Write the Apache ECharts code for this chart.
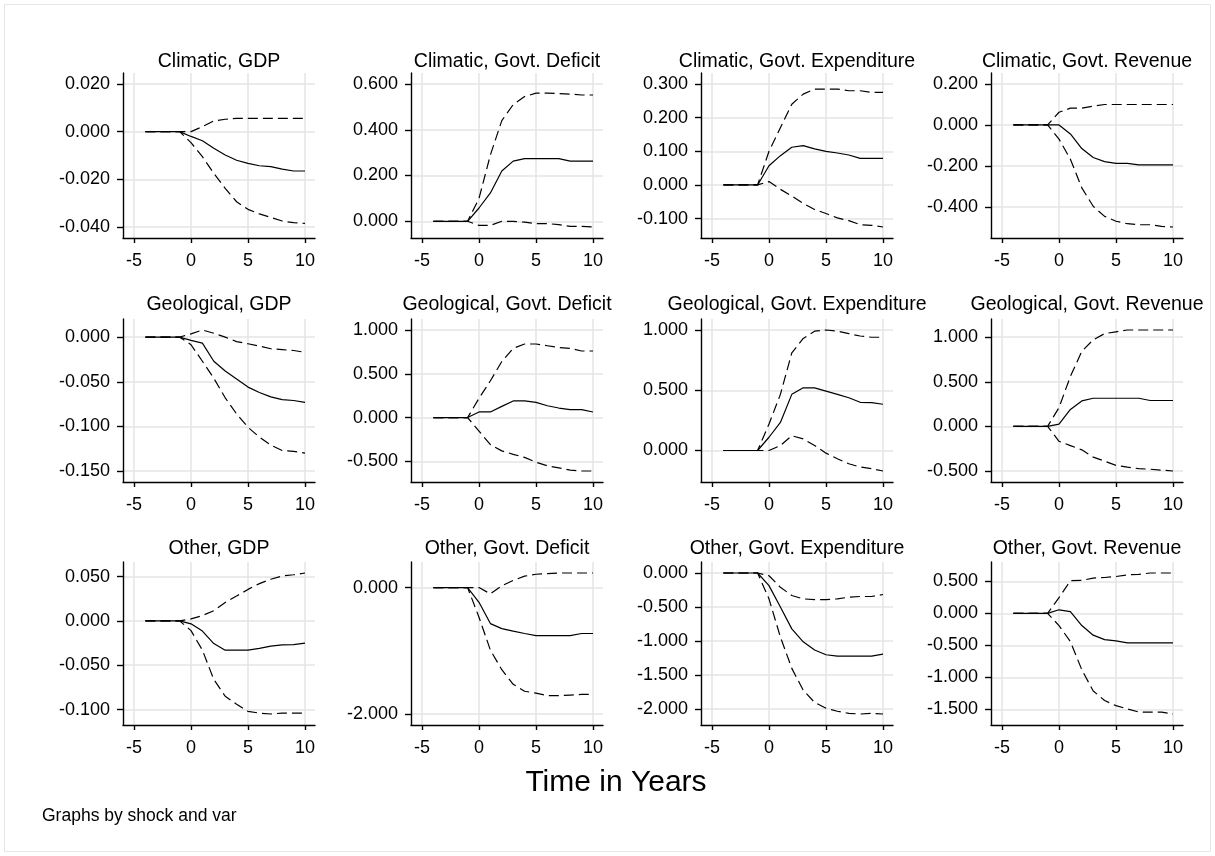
<!DOCTYPE html>
<html><head><meta charset="utf-8">
<script src="https://cdn.jsdelivr.net/npm/echarts@6/dist/echarts.min.js"></script>
<style>html,body{margin:0;padding:0;background:#fff}#c{width:1215px;height:856px}</style>
</head><body><div id="c"></div>
<script>
// ---- data ----
const years = [-4,-3,-2,-1,0,1,2,3,4,5,6,7,8,9,10];
const xTicks = [-5,0,5,10];
const panelTitles = [
  'Climatic, GDP','Climatic, Govt. Deficit','Climatic, Govt. Expenditure','Climatic, Govt. Revenue',
  'Geological, GDP','Geological, Govt. Deficit','Geological, Govt. Expenditure','Geological, Govt. Revenue',
  'Other, GDP','Other, Govt. Deficit','Other, Govt. Expenditure','Other, Govt. Revenue'];
const xTitle = 'Time in Years';
const noteText = 'Graphs by shock and var';

const climGDP_est = [0,0,0,0,-0.002,-0.0038,-0.007,-0.0098,-0.012,-0.0133,-0.0143,-0.0147,-0.0157,-0.0165,-0.0165];
const climGDP_hi  = [0,0,0,0,0,0.0021,0.0045,0.0052,0.0056,0.0056,0.0056,0.0056,0.0056,0.0056,0.0056];
const climGDP_lo  = [0,0,0,0,-0.0046,-0.0105,-0.0175,-0.0238,-0.0294,-0.0326,-0.0345,-0.036,-0.0375,-0.0382,-0.0385];
const climGDP_ticks = [-0.04,-0.02,0,0.02];

const climDef_est = [0,0,0,0,0.058,0.124,0.22,0.263,0.274,0.274,0.274,0.274,0.263,0.263,0.263];
const climDef_hi  = [0,0,0,0,0.10,0.29,0.44,0.51,0.545,0.56,0.56,0.558,0.556,0.552,0.552];
const climDef_lo  = [0,0,0,0,-0.018,-0.018,0,0,-0.004,-0.01,-0.01,-0.015,-0.022,-0.022,-0.025];
const climDef_ticks = [0,0.2,0.4,0.6];

const climExp_est = [0,0,0,0,0.057,0.087,0.112,0.117,0.107,0.1,0.095,0.089,0.079,0.079,0.079];
const climExp_hi  = [0,0,0,0,0.10,0.17,0.24,0.27,0.285,0.285,0.285,0.28,0.28,0.275,0.275];
const climExp_lo  = [0,0,0,0,0.01,-0.013,-0.033,-0.055,-0.073,-0.085,-0.098,-0.106,-0.118,-0.12,-0.125];
const climExp_ticks = [-0.1,0,0.1,0.2,0.3];

const climRev_est = [0,0,0,0,0,-0.044,-0.115,-0.159,-0.179,-0.187,-0.187,-0.195,-0.195,-0.195,-0.195];
const climRev_hi  = [0,0,0,0,0.062,0.082,0.082,0.092,0.1,0.1,0.1,0.1,0.1,0.1,0.1];
const climRev_lo  = [0,0,0,0,-0.069,-0.167,-0.307,-0.397,-0.446,-0.47,-0.482,-0.487,-0.487,-0.495,-0.498];
const climRev_ticks = [-0.4,-0.2,0,0.2];

const geoGDP_est = [0,0,0,0,-0.0037,-0.0067,-0.027,-0.038,-0.047,-0.056,-0.062,-0.067,-0.070,-0.071,-0.073];
const geoGDP_hi  = [0,0,0,0,0.0037,0.008,0.0044,0,-0.005,-0.0074,-0.010,-0.013,-0.014,-0.015,-0.017];
const geoGDP_lo  = [0,0,0,0,-0.0085,-0.027,-0.046,-0.068,-0.086,-0.101,-0.112,-0.121,-0.127,-0.128,-0.130];
const geoGDP_ticks = [-0.15,-0.1,-0.05,0];

const geoDef_est = [0,0,0,0,0.064,0.064,0.128,0.19,0.19,0.173,0.135,0.109,0.09,0.09,0.064];
const geoDef_hi  = [0,0,0,0,0.22,0.42,0.64,0.79,0.84,0.84,0.82,0.80,0.79,0.76,0.76];
const geoDef_lo  = [0,0,0,0,-0.154,-0.31,-0.38,-0.42,-0.455,-0.51,-0.55,-0.575,-0.6,-0.61,-0.61];
const geoDef_ticks = [-0.5,0,0.5,1.0];

const geoExp_est = [0,0,0,0,0.11,0.233,0.466,0.52,0.52,0.493,0.466,0.438,0.40,0.397,0.384];
const geoExp_hi  = [0,0,0,0,0.22,0.466,0.81,0.93,0.99,1.0,0.99,0.97,0.95,0.94,0.94];
const geoExp_lo  = [0,0,0,0,0,0.041,0.123,0.096,0.041,-0.022,-0.068,-0.11,-0.137,-0.15,-0.17];
const geoExp_ticks = [0,0.5,1.0];

const geoRev_est = [0,0,0,0,0.026,0.19,0.285,0.315,0.315,0.315,0.315,0.315,0.29,0.29,0.29];
const geoRev_hi  = [0,0,0,0,0.21,0.56,0.84,0.97,1.04,1.06,1.08,1.08,1.08,1.08,1.08];
const geoRev_lo  = [0,0,0,0,-0.167,-0.215,-0.263,-0.344,-0.39,-0.437,-0.456,-0.474,-0.48,-0.49,-0.5];
const geoRev_ticks = [-0.5,0,0.5,1.0];

const othGDP_est = [0,0,0,0,-0.0033,-0.0115,-0.0256,-0.033,-0.033,-0.033,-0.031,-0.0285,-0.027,-0.0267,-0.025];
const othGDP_hi  = [0,0,0,0,0.0022,0.006,0.0115,0.0207,0.028,0.0355,0.042,0.047,0.0507,0.052,0.054];
const othGDP_lo  = [0,0,0,0,-0.011,-0.033,-0.066,-0.085,-0.094,-0.102,-0.104,-0.105,-0.104,-0.104,-0.104];
const othGDP_ticks = [-0.1,-0.05,0,0.05];

const othDef_est = [0,0,0,0,-0.234,-0.57,-0.65,-0.69,-0.727,-0.76,-0.76,-0.76,-0.76,-0.727,-0.727];
const othDef_hi  = [0,0,0,0,0,-0.10,0.026,0.114,0.18,0.21,0.22,0.23,0.23,0.23,0.23];
const othDef_lo  = [0,0,0,0,-0.47,-0.99,-1.30,-1.53,-1.64,-1.67,-1.71,-1.71,-1.70,-1.69,-1.69];
const othDef_ticks = [-2,0];

const othExp_est = [0,0,0,0,-0.185,-0.50,-0.82,-1.01,-1.13,-1.20,-1.22,-1.22,-1.22,-1.22,-1.19];
const othExp_hi  = [0,0,0,0,-0.04,-0.21,-0.33,-0.38,-0.39,-0.39,-0.38,-0.355,-0.345,-0.345,-0.316];
const othExp_lo  = [0,0,0,0,-0.38,-0.94,-1.40,-1.72,-1.90,-1.985,-2.03,-2.06,-2.07,-2.06,-2.07];
const othExp_ticks = [-2,-1.5,-1,-0.5,0];

const othRev_est = [0,0,0,0,0.056,0.026,-0.19,-0.34,-0.41,-0.43,-0.46,-0.46,-0.46,-0.46,-0.46];
const othRev_hi  = [0,0,0,0,0.245,0.51,0.515,0.55,0.56,0.575,0.60,0.61,0.63,0.63,0.63];
const othRev_lo  = [0,0,0,0,-0.19,-0.44,-0.88,-1.21,-1.36,-1.44,-1.49,-1.54,-1.54,-1.54,-1.57];
const othRev_ticks = [-1.5,-1,-0.5,0,0.5];

const panels = [
  [climGDP_est, climGDP_hi, climGDP_lo, climGDP_ticks],
  [climDef_est, climDef_hi, climDef_lo, climDef_ticks],
  [climExp_est, climExp_hi, climExp_lo, climExp_ticks],
  [climRev_est, climRev_hi, climRev_lo, climRev_ticks],
  [geoGDP_est, geoGDP_hi, geoGDP_lo, geoGDP_ticks],
  [geoDef_est, geoDef_hi, geoDef_lo, geoDef_ticks],
  [geoExp_est, geoExp_hi, geoExp_lo, geoExp_ticks],
  [geoRev_est, geoRev_hi, geoRev_lo, geoRev_ticks],
  [othGDP_est, othGDP_hi, othGDP_lo, othGDP_ticks],
  [othDef_est, othDef_hi, othDef_lo, othDef_ticks],
  [othExp_est, othExp_hi, othExp_lo, othExp_ticks],
  [othRev_est, othRev_hi, othRev_lo, othRev_ticks]
];

// ---- layout ----
const colLeft = [123, 411, 701, 991];
const gridW = 192;
const rowTop = [73, 319, 562];
const rowH = [165, 163, 163];
const titleY = [62, 305, 549];
const MARG = 11;
const FONT = '"Liberation Sans", Arial, Helvetica, sans-serif';

const grids = [], xAxes = [], yAxes = [], series = [], graphics = [];
panels.forEach((p, i) => {
  const r = Math.floor(i / 4), c = i % 4;
  const H = rowH[r], W = gridW;
  grids.push({left: colLeft[c], top: rowTop[r], width: W, height: H, containLabel: false});
  const xu = (xTicks[3] - xTicks[0]) / (W - 21);
  xAxes.push({
    type: 'value', gridIndex: i, min: xTicks[0] - 11 * xu, max: xTicks[3] + 10 * xu,
    axisLine: {show: true, onZero: false, lineStyle: {color: '#000', width: 1.4}},
    axisTick: {show: true, customValues: xTicks, length: 5, lineStyle: {color: '#000', width: 1.4}},
    axisLabel: {customValues: xTicks, color: '#000', fontSize: 18, fontFamily: FONT, margin: 14},
    splitLine: {show: true, lineStyle: {color: '#e4e4e4', width: 1.5}}
  });
  const all = p[0].concat(p[1], p[2], p[3]);
  const lo = Math.min.apply(null, all), hi = Math.max.apply(null, all);
  const pad = (hi - lo) * MARG / (H - 2 * MARG);
  yAxes.push({
    type: 'value', gridIndex: i, min: lo - pad, max: hi + pad,
    axisLine: {show: true, onZero: false, lineStyle: {color: '#000', width: 1.4}},
    axisTick: {show: true, customValues: p[3], length: 6, lineStyle: {color: '#000', width: 1.4}},
    axisLabel: {customValues: p[3], color: '#000', fontSize: 18, fontFamily: FONT, margin: 13,
      formatter: v => (Math.abs(v) < 1e-9 ? 0 : v).toFixed(3)},
    splitLine: {show: true, lineStyle: {color: '#e4e4e4', width: 1.5}}
  });
  const mk = (arr, dashed) => ({
    type: 'line', xAxisIndex: i, yAxisIndex: i, showSymbol: false, symbol: 'none', silent: true,
    data: years.map((x, k) => [x, arr[k]]),
    lineStyle: {color: '#000', width: 1.2, type: dashed ? [10, 5] : 'solid'}
  });
  series.push(mk(p[1], true), mk(p[2], true), mk(p[0], false));
  graphics.push({type: 'text', x: colLeft[c] + W / 2, y: titleY[r],
    style: {text: panelTitles[i], fill: '#000', font: '19.5px ' + FONT, textAlign: 'center', textVerticalAlign: 'middle'}});
});
graphics.push({type: 'rect', shape: {x: 4.5, y: 4.5, width: 1206, height: 847},
  style: {fill: 'none', stroke: '#e6e6e6', lineWidth: 1}, z: -10});
graphics.push({type: 'text', x: 616, y: 783,
  style: {text: xTitle, fill: '#000', font: '30px ' + FONT, textAlign: 'center', textVerticalAlign: 'middle'}});
graphics.push({type: 'text', x: 42, y: 816,
  style: {text: noteText, fill: '#000', font: '17.5px ' + FONT, textAlign: 'left', textVerticalAlign: 'middle'}});

const chart = echarts.init(document.getElementById('c'), null, {renderer: 'canvas'});
chart.setOption({
  animation: false, backgroundColor: '#fff',
  grid: grids, xAxis: xAxes, yAxis: yAxes, series: series, graphic: graphics
});
</script></body></html>
